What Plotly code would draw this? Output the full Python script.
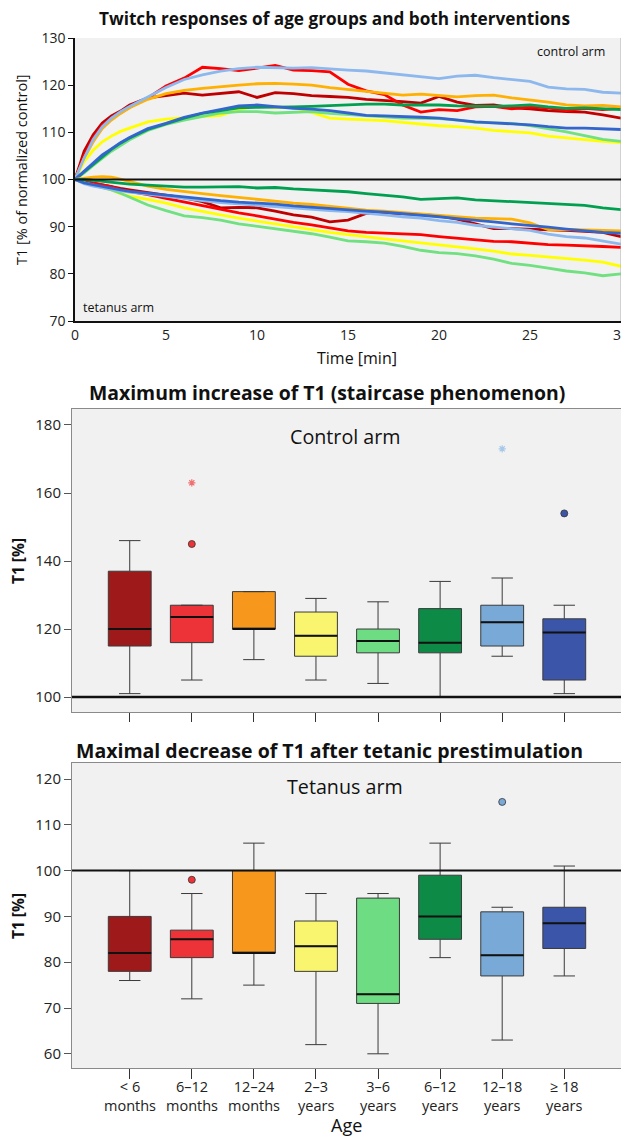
import plotly.graph_objects as go

# ---------------- data ----------------
time_min = [0, 0.5, 1, 1.5, 2, 2.5, 3, 4, 5, 6, 7, 8, 9, 10, 11, 12, 13, 14, 15, 16, 17,
            18, 19, 20, 21, 22, 23, 24, 25, 26, 27, 28, 29, 30]

groups = ["< 6 months", "6-12 months", "12-24 months", "2-3 years",
          "3-6 years", "6-12 years", "12-18 years", "≥ 18 years"]
tick_line1 = ["< 6", "6–12", "12–24", "2–3", "3–6", "6–12", "12–18", "≥ 18"]
tick_line2 = ["months", "months", "months", "years", "years", "years", "years", "years"]

# control arm time courses (% of normalized control)
ctrl = {
    "< 6 months":   [100, 106, 109.5, 112, 113.5, 114.5, 115.8, 117.3, 117.8, 118.3, 117.9, 118.3, 118.6, 117.4, 118.4, 118.2, 117.8, 117.6, 117.4, 117.0, 116.8, 116.5, 116.2, 117.6, 116.4, 115.7, 115.8, 115.2, 115.0, 114.6, 114.4, 114.3, 113.7, 113.0],
    "6-12 months":  [100, 105, 108.8, 111.5, 113, 114.2, 115.3, 117.3, 119.8, 121.5, 123.8, 123.5, 123.1, 123.6, 124.2, 123.2, 123.1, 122.8, 120.2, 118.8, 118.0, 115.8, 114.3, 114.8, 114.6, 115.4, 115.5, 115.0, 115.4, 115.2, 114.6, 115.1, 114.8, 115.1],
    "12-24 months": [100, 104.5, 108, 110.8, 112.6, 114, 115.2, 117, 118.2, 118.9, 119.3, 119.7, 120.0, 120.3, 120.4, 120.2, 120.0, 119.5, 119.1, 118.7, 118.3, 117.9, 118.1, 117.8, 117.5, 117.8, 117.9, 117.3, 116.9, 116.4, 115.8, 115.6, 115.7, 115.4],
    "2-3 years":    [100, 103.8, 106.2, 108, 109.2, 110.2, 110.9, 112.2, 112.8, 113.1, 113.4, 113.6, 114.8, 115.6, 115.3, 115.3, 114.2, 113.0, 112.8, 112.7, 112.5, 112.1, 111.7, 111.4, 111.2, 110.9, 110.4, 110.1, 109.9, 109.2, 108.8, 108.4, 108.1, 107.8],
    "3-6 years":    [100, 101.4, 103, 104.6, 106, 107.2, 108.4, 110.4, 111.7, 112.6, 113.4, 114.1, 114.4, 114.4, 114.1, 114.3, 114.4, 114.0, 113.8, 113.6, 113.3, 113.0, 113.0, 112.9, 112.6, 112.1, 112.0, 111.9, 111.4, 110.8, 110.1, 109.3, 108.5, 108.1],
    "6-12 years":   [100, 101.6, 103.3, 105, 106.4, 107.7, 108.8, 110.6, 111.8, 113.0, 114.0, 114.6, 115.2, 115.3, 115.3, 115.4, 115.5, 115.7, 115.9, 116.0, 116.0, 115.8, 115.8, 115.8, 115.6, 115.5, 115.5, 115.6, 115.8, 115.4, 115.1, 115.2, 115.0, 114.8],
    "12-18 years":  [100, 104.5, 108.5, 111.2, 113, 114.4, 115.5, 117.5, 119.5, 121.2, 122.2, 123.0, 123.5, 123.8, 123.7, 123.6, 123.7, 123.4, 123.2, 123.0, 122.6, 122.1, 121.7, 121.4, 121.9, 122.1, 121.6, 121.2, 120.8, 119.6, 119.2, 119.1, 118.5, 118.3],
    "≥ 18 years":   [100, 101.8, 103.5, 105.2, 106.5, 107.8, 108.9, 110.8, 111.9, 113.2, 114.1, 114.8, 115.6, 115.8, 115.4, 115.1, 114.9, 114.6, 114.1, 113.6, 113.5, 113.4, 113.2, 113.0, 112.6, 112.2, 112.0, 111.8, 111.6, 111.2, 110.9, 110.9, 110.8, 110.6],
}
# tetanus arm time courses
tet = {
    "< 6 months":   [100, 99.6, 99.2, 98.8, 98.5, 98.1, 97.8, 97.2, 96.6, 96.1, 95.3, 94.0, 94.1, 94.0, 93.3, 92.5, 92.0, 91.0, 91.4, 92.8, 92.9, 92.8, 92.6, 92.3, 91.6, 90.6, 89.6, 89.6, 89.5, 89.3, 89.2, 89.0, 88.8, 87.9],
    "6-12 months":  [100, 99.6, 99.3, 98.9, 98.5, 97.8, 97.5, 96.8, 96.0, 95.2, 94.4, 93.6, 92.9, 92.3, 91.6, 90.9, 90.4, 89.8, 89.1, 88.8, 88.6, 88.5, 88.3, 87.9, 87.6, 87.2, 86.9, 86.8, 86.5, 86.2, 86.1, 86.0, 85.8, 85.6],
    "12-24 months": [100, 100.3, 100.5, 100.6, 100.5, 100.1, 99.6, 98.6, 97.9, 97.4, 97.0, 96.6, 96.2, 95.8, 95.3, 95.0, 94.7, 94.3, 93.9, 93.5, 93.3, 93.0, 92.7, 92.3, 92.0, 91.8, 91.7, 91.6, 90.8, 89.4, 89.4, 89.3, 89.2, 89.1],
    "2-3 years":    [100, 99.3, 98.8, 98.3, 97.8, 97.0, 96.5, 95.8, 95.0, 94.0, 93.2, 92.5, 91.8, 91.2, 90.5, 89.9, 89.4, 88.8, 88.3, 87.8, 87.4, 87.0, 86.6, 86.2, 85.7, 85.3, 84.8, 84.2, 83.9, 83.6, 83.2, 82.9, 82.5, 81.6],
    "3-6 years":    [100, 99.3, 98.8, 98.3, 97.8, 97.1, 96.3, 94.6, 93.4, 92.3, 91.9, 91.4, 90.6, 90.1, 89.6, 89.0, 88.5, 87.8, 87.0, 86.8, 86.5, 85.8, 85.0, 84.5, 84.3, 83.8, 83.1, 82.2, 81.8, 81.2, 80.6, 80.2, 79.6, 80.0],
    "6-12 years":   [100, 100, 99.8, 99.6, 99.3, 99.1, 99.0, 98.8, 98.6, 98.4, 98.4, 98.5, 98.5, 98.2, 98.3, 98.0, 97.8, 97.6, 97.4, 97.0, 96.7, 96.3, 95.8, 95.9, 96.1, 95.7, 95.5, 95.3, 95.1, 94.8, 94.6, 94.5, 94.0, 93.6],
    "12-18 years":  [100, 99.1, 98.6, 98.2, 97.9, 97.6, 97.3, 96.9, 96.4, 95.9, 95.5, 95.1, 94.8, 94.5, 94.2, 94.0, 93.7, 93.4, 93.2, 92.9, 92.5, 92.1, 91.8, 91.3, 90.9, 90.3, 89.9, 89.6, 89.2, 88.4, 87.9, 87.6, 87.0, 86.3],
    "≥ 18 years":   [100, 99.3, 98.9, 98.5, 98.2, 97.8, 97.5, 97.1, 96.7, 96.2, 95.8, 95.5, 95.2, 95.0, 94.8, 94.4, 94.1, 93.8, 93.6, 93.3, 93.1, 92.8, 92.5, 92.1, 91.7, 91.4, 91.0, 90.6, 90.3, 89.9, 89.5, 89.1, 88.8, 88.6],
}

# box plot statistics: control arm (maximum increase of T1)
ctrl_low = [101, 105, 111, 105, 104, 100, 112, 101]
ctrl_q1 = [115, 116, 120, 112, 113, 113, 115, 105]
ctrl_med = [120, 123.5, 120, 118, 116.5, 116, 122, 119]
ctrl_q3 = [137, 127, 131, 125, 120, 126, 127, 123]
ctrl_high = [146, 127, 131, 129, 128, 134, 135, 127]
ctrl_out_idx = [1, 7]
ctrl_out_val = [145, 154]
ctrl_ext_idx = [1, 6]
ctrl_ext_val = [163, 173]

# box plot statistics: tetanus arm (maximal decrease of T1)
tet_low = [76, 72, 75, 62, 60, 81, 63, 77]
tet_q1 = [78, 81, 82, 78, 71, 85, 77, 83]
tet_med = [82, 85, 82, 83.5, 73, 90, 81.5, 88.5]
tet_q3 = [90, 87, 100, 89, 94, 99, 91, 92]
tet_high = [100, 95, 106, 95, 95, 106, 92, 101]
tet_out_idx = [1, 6]
tet_out_val = [98, 115]

# ---------------- styles ----------------
line_colors = ["#C00000", "#FF0000", "#FFB000", "#FFFF00", "#70E080", "#00A050", "#8DB8EE", "#3366CC"]
box_colors = ["#9E1A1A", "#EE3338", "#F7981D", "#FAF56E", "#6EDC82", "#0E8A47", "#79A9D6", "#3B56A8"]
ext_colors = {1: "#F07070", 6: "#A8C8EA"}
FONT = "Open Sans"

# the page body adds an 8px margin; figure is sized so that it fills the 629x1138 window
OFF = 8
W, H = 629 - OFF, 1138 - OFF


def px(X):
    return (X - OFF) / W


def py(Y):
    return 1 - (Y - OFF) / H


fig = go.Figure()

# time courses
for g, c in zip(groups, line_colors):
    fig.add_trace(go.Scatter(x=time_min, y=ctrl[g], mode="lines", line=dict(color=c, width=2.8),
                             xaxis="x", yaxis="y", showlegend=False, name=g))
for g, c in zip(groups, line_colors):
    fig.add_trace(go.Scatter(x=time_min, y=tet[g], mode="lines", line=dict(color=c, width=2.8),
                             xaxis="x", yaxis="y", showlegend=False, name=g))

positions = list(range(len(groups)))


def add_boxes(low, q1, med, q3, high, xa, ya):
    for i in positions:
        fig.add_trace(go.Box(x=[i], q1=[q1[i]], median=[med[i]], q3=[q3[i]],
                             lowerfence=[low[i]], upperfence=[high[i]],
                             width=0.69, whiskerwidth=0.5, boxpoints=False,
                             fillcolor=box_colors[i], line=dict(color="#3a3a3a", width=1),
                             xaxis=xa, yaxis=ya, showlegend=False, name=groups[i]))


add_boxes(ctrl_low, ctrl_q1, ctrl_med, ctrl_q3, ctrl_high, "x2", "y2")
add_boxes(tet_low, tet_q1, tet_med, tet_q3, tet_high, "x3", "y3")

# outliers
fig.add_trace(go.Scatter(x=ctrl_out_idx, y=ctrl_out_val, mode="markers",
                         marker=dict(symbol="circle", size=7, color=[box_colors[i] for i in ctrl_out_idx],
                                     line=dict(color="#333", width=0.8)),
                         xaxis="x2", yaxis="y2", showlegend=False))
fig.add_trace(go.Scatter(x=ctrl_ext_idx, y=ctrl_ext_val, mode="markers",
                         marker=dict(symbol="asterisk-open", size=6, color=[ext_colors[i] for i in ctrl_ext_idx],
                                     line=dict(color=[ext_colors[i] for i in ctrl_ext_idx], width=1.2)),
                         xaxis="x2", yaxis="y2", showlegend=False))
fig.add_trace(go.Scatter(x=tet_out_idx, y=tet_out_val, mode="markers",
                         marker=dict(symbol="circle", size=7, color=[box_colors[i] for i in tet_out_idx],
                                     line=dict(color="#333", width=0.8)),
                         xaxis="x3", yaxis="y3", showlegend=False))

shapes = []
shapes.append(dict(type="line", xref="x domain", yref="y domain", x0=1, x1=1, y0=0, y1=1,
                   line=dict(color="#b0b0b0", width=1)))
for xr, yr, w in (("x domain", "y", 2.0), ("x2 domain", "y2", 2.4), ("x3 domain", "y3", 2.0)):
    shapes.append(dict(type="line", xref=xr, yref=yr, x0=0, x1=1, y0=100, y1=100,
                       line=dict(color="#111", width=w), layer="above"))
for meds, xr, yr in ((ctrl_med, "x2", "y2"), (tet_med, "x3", "y3")):
    for i in positions:
        shapes.append(dict(type="line", xref=xr, yref=yr, x0=i - 0.345, x1=i + 0.345,
                           y0=meds[i], y1=meds[i], line=dict(color="#111", width=2), layer="above"))

tickfont_top = dict(family=FONT, size=14, color="#222")
tickfont_box = dict(family=FONT, size=15, color="#222")

fig.update_layout(
    width=W, height=H,
    margin=dict(l=0, r=0, t=0, b=0),
    paper_bgcolor="white",
    font=dict(family=FONT, color="#111"),
    shapes=shapes,
    xaxis=dict(domain=[px(75), px(621)], anchor="y", range=[0, 30], tickvals=[0, 5, 10, 15, 20, 25, 30],
               showline=True, linecolor="#111", linewidth=2, ticks="", showgrid=False, zeroline=False,
               tickfont=tickfont_top, automargin=False, ticklabeloverflow="allow"),
    yaxis=dict(domain=[py(321), py(38)], anchor="x", range=[70, 130],
               tickvals=[70, 80, 90, 100, 110, 120, 130], showline=True, linecolor="#111", linewidth=1.5,
               ticks="outside", ticklen=5, tickcolor="#111", showgrid=False, zeroline=False,
               tickfont=tickfont_top, automargin=False, ticklabeloverflow="allow"),
    xaxis2=dict(domain=[px(72), px(622)], anchor="y2", range=[-0.93, 7.93], tickvals=positions,
                ticktext=["" for _ in positions], showline=True, mirror=True, linecolor="#8a8a8a", linewidth=1,
                ticks="outside", ticklen=9, tickcolor="#333", showgrid=False, zeroline=False, automargin=False),
    yaxis2=dict(domain=[py(712), py(409)], anchor="x2", range=[95.6, 184.7],
                tickvals=[100, 120, 140, 160, 180], showline=True, mirror=True, linecolor="#8a8a8a", linewidth=1,
                ticks="outside", ticklen=7, tickcolor="#555", showgrid=False, zeroline=False,
                tickfont=tickfont_box, automargin=False),
    xaxis3=dict(domain=[px(72), px(622)], anchor="y3", range=[-0.93, 7.93], tickvals=positions,
                ticktext=["" for _ in positions], showline=True, mirror=True, linecolor="#8a8a8a", linewidth=1,
                ticks="outside", ticklen=10, tickcolor="#333", showgrid=False, zeroline=False, automargin=False),
    yaxis3=dict(domain=[py(1068), py(763)], anchor="x3", range=[56.9, 123.5],
                tickvals=[60, 70, 80, 90, 100, 110, 120], showline=True, mirror=True, linecolor="#8a8a8a",
                linewidth=1, ticks="outside", ticklen=7, tickcolor="#555", showgrid=False, zeroline=False,
                tickfont=tickfont_box, automargin=False),
    plot_bgcolor="#F1F1F1",
)

ann = []


def A(text, x, y, size, bold=False, angle=0, xanchor="center", color="#111"):
    ann.append(dict(text=("<b>%s</b>" % text) if bold else text, x=px(x), y=py(y),
                    xref="paper", yref="paper", showarrow=False, xanchor=xanchor, yanchor="middle",
                    textangle=angle, font=dict(family=FONT, size=size, color=color)))


A("Twitch responses of age groups and both interventions", 334, 18, 17.2, bold=True)
A("control arm", 607, 52, 12.5, xanchor="right")
A("tetanus arm", 81, 308, 12.5, xanchor="left")
A("Time [min]", 357, 358, 16)
A("T1 [% of normalized control]", 22, 170, 14.5, angle=-90)
A("Maximum increase of T1 (staircase phenomenon)", 327, 393, 19.4, bold=True)
A("Control arm", 345, 437, 19.7)
A("T1 [%]", 18, 561, 15.5, bold=True, angle=-90)
A("Maximal decrease of T1 after tetanic prestimulation", 329, 750, 19.5, bold=True)
A("Tetanus arm", 345, 786, 19.7)
A("T1 [%]", 18, 916, 15.5, bold=True, angle=-90)
A("Age", 346, 1125, 18)

# two-line category labels under the tetanus panel
for i in positions:
    ann.append(dict(text=tick_line1[i] + "<br>" + tick_line2[i], x=i, xref="x3", y=py(1096), yref="paper",
                    showarrow=False, xanchor="center", yanchor="middle",
                    font=dict(family=FONT, size=14.5, color="#222")))

fig.update_layout(annotations=ann)

fig.write_html("out.html")
